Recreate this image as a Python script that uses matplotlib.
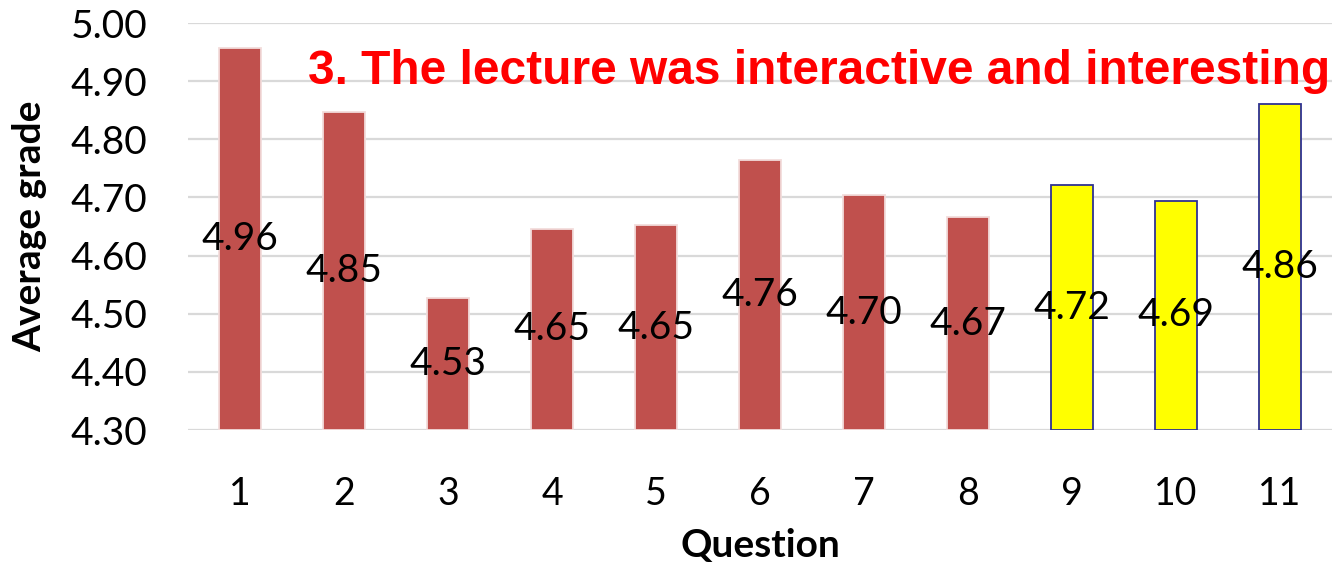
import matplotlib.pyplot as plt
import numpy as np

questions = ["1", "2", "3", "4", "5", "6", "7", "8", "9", "10", "11"]
grades = [4.957, 4.847, 4.527, 4.646, 4.652, 4.764, 4.704, 4.666, 4.721, 4.694, 4.861]
highlighted = [False] * 8 + [True] * 3
yticks = [4.30, 4.40, 4.50, 4.60, 4.70, 4.80, 4.90, 5.00]
title = "3. The lecture was interactive and interesting"

W, H = 1336, 564
fig = plt.figure(figsize=(W / 100, H / 100), dpi=100)
ax = fig.add_axes([188 / W, 1 - 430 / H, (1332 - 188) / W, (430 - 23) / H])

base = 4.30
x = np.arange(len(questions))
colors = ["#FFFF00" if h else "#C0504D" for h in highlighted]
edges = ["#2E3192" if h else "#F2DCDB" for h in highlighted]
ax.bar(x, np.array(grades) - base, bottom=base, width=0.4,
       color=colors, edgecolor=edges, linewidth=1.3, zorder=3)

# value labels sit in the middle of each bar
for xi, g in zip(x, grades):
    ax.text(xi, (base + g) / 2, f"{g:.2f}", ha="center", va="center",
            fontsize=28, family="Lato", color="black", zorder=4)

ax.set_xlim(-0.5, len(questions) - 0.5)
ax.set_ylim(base, 5.00)
ax.set_yticks(yticks)
ax.set_yticklabels([f"{t:.2f}" for t in yticks], family="Lato", fontsize=28)
ax.set_xticks(x)
ax.set_xticklabels(questions, family="Lato", fontsize=27)
ax.tick_params(axis="y", length=0, pad=29)
ax.tick_params(axis="x", length=0, pad=33)
ax.grid(axis="y", color="#D9D9D9", linewidth=1.6, zorder=0)
for s in ax.spines.values():
    s.set_visible(False)

ax.set_ylabel("Average grade", family="Lato", fontsize=28, fontweight="bold")
ax.yaxis.set_label_coords(-0.138, 0.5)
ax.yaxis.label.set_va("center")
ax.set_xlabel("Question", family="Lato", fontsize=28, fontweight="bold")
ax.xaxis.set_label_coords(0.5, -0.283)
ax.xaxis.label.set_va("center")

ax.text(0.998, 4.916, title, ha="right", va="center", color="#FF0000",
        fontsize=34.5, fontweight="bold", family="Liberation Sans", zorder=5,
        transform=ax.get_yaxis_transform())

fig.savefig("out.png", dpi=100)
